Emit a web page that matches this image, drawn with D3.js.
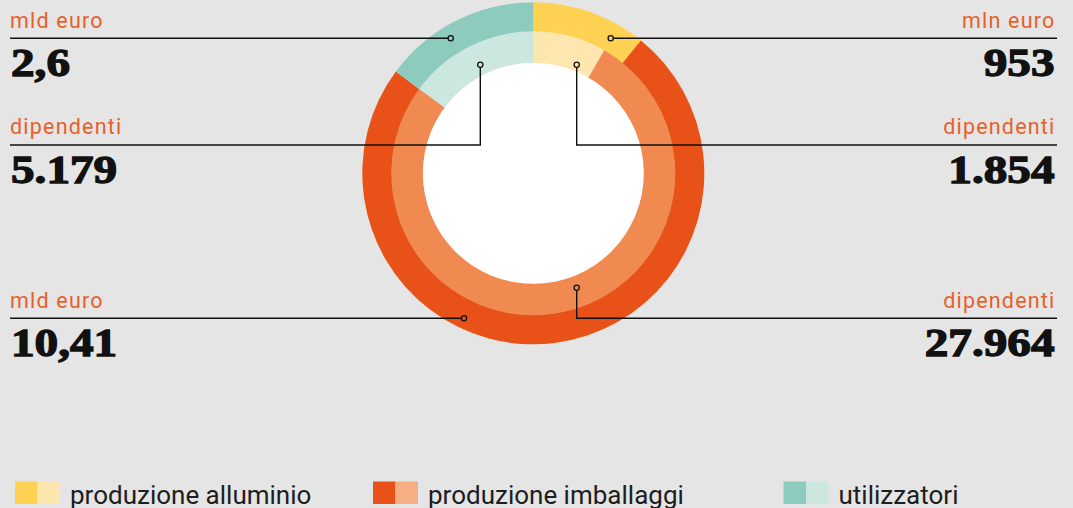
<!DOCTYPE html>
<html lang="it">
<head>
  <meta charset="utf-8">
  <title>Alluminio: fatturato e dipendenti</title>
  <script src="https://d3js.org/d3.v7.min.js"></script>
  <style>
    html, body { margin: 0; padding: 0; background: #e4e5e4; }
    svg { display: block; }
    .unit { font-family: Roboto, "Open Sans", sans-serif; font-size: 21.5px; letter-spacing: 1.2px; fill: #e8602a; }
    .value { font-family: "Liberation Serif", "DejaVu Serif", serif; font-weight: bold; font-size: 40px; fill: #111; stroke: #111; stroke-width: 1.3px; }
    .legend text { font-family: Roboto, "Open Sans", sans-serif; font-size: 26px; fill: #1e1e1e; }
  </style>
</head>
<body>
  <svg width="1073" height="508"></svg>

  <script>
    // categories, in clockwise order from 12 o'clock
    var categories = ["produzione alluminio", "produzione imballaggi", "utilizzatori"];

    // printed figures
    var revenue = ["953", "10,41", "2,6"];
    var revenueUnit = ["mln euro", "mld euro", "mld euro"];
    var employees = ["1.854", "27.964", "5.179"];

    // sweep of each slice in degrees, as drawn in the picture
    var outerShares = [39, 267.5, 53.5];   // fatturato
    var innerShares = [30, 276.5, 53.5];   // dipendenti

    var darkColors = ["#ffd254", "#e85117", "#8ecbbf"];
    var lightColors = ["#fee6af", "#f08a51", "#cce6e0"];
    var legendLight = ["#fee6af", "#f6ae84", "#cce6e0"];

    var svg = d3.select("svg"),
      width = +svg.attr("width"),
      height = +svg.attr("height"),
      cx = 533.3,
      cy = 173.3;

    svg.append("rect").attr("width", width).attr("height", height).attr("fill", "#e4e5e4");

    var pie = d3.pie().sort(null).value(d => d);
    var outerArc = d3.arc().innerRadius(141.5).outerRadius(171);
    var innerArc = d3.arc().innerRadius(110).outerRadius(142);

    var g = svg.append("g").attr("transform", `translate(${cx},${cy})`);

    g.selectAll("path.outer")
      .data(pie(outerShares))
      .enter().append("path")
      .attr("class", "outer")
      .attr("d", outerArc)
      .attr("fill", (d, i) => darkColors[i]);

    g.selectAll("path.inner")
      .data(pie(innerShares))
      .enter().append("path")
      .attr("class", "inner")
      .attr("d", innerArc)
      .attr("fill", (d, i) => lightColors[i]);

    g.append("circle").attr("r", 110.5).attr("fill", "#fff");

    // callouts: ring, category, side, y of the rule, dot offset from centre
    var callouts = [
      { ring: "outer", cat: 2, side: "left", y: 38.3, dot: [-82.6, -135] },
      { ring: "inner", cat: 2, side: "left", y: 145, dot: [-53, -108.6] },
      { ring: "outer", cat: 1, side: "left", y: 318.3, dot: [-69.3, 145] },
      { ring: "outer", cat: 0, side: "right", y: 38.3, dot: [77.4, -135] },
      { ring: "inner", cat: 0, side: "right", y: 145, dot: [43.4, -108.6] },
      { ring: "inner", cat: 1, side: "right", y: 318.3, dot: [43.4, 114.4] }
    ];

    var leftX = 10, rightX = 1057;

    callouts.forEach(c => {
      var dx = cx + c.dot[0], dy = cy + c.dot[1];
      var edge = c.side == "left" ? leftX : rightX;
      var anchor = c.side == "left" ? "start" : "end";
      var tx = c.side == "left" ? leftX : rightX - 1.5;

      var pts = [[edge, c.y], [dx, c.y], [dx, dy]];
      svg.append("path")
        .attr("d", d3.line()(pts))
        .attr("fill", "none")
        .attr("stroke", "#111")
        .attr("stroke-width", 1.4);

      svg.append("circle")
        .attr("cx", dx).attr("cy", dy).attr("r", 2.6)
        .attr("fill", c.ring == "outer" ? darkColors[c.cat] : lightColors[c.cat])
        .attr("stroke", "#111")
        .attr("stroke-width", 1.3);

      svg.append("text")
        .attr("class", "unit")
        .attr("x", tx).attr("y", c.y - 10.6)
        .attr("text-anchor", anchor)
        .text(c.ring == "outer" ? revenueUnit[c.cat] : "dipendenti");

      // poster-style figures: widen the serif a bit
      var vx = c.side == "left" ? leftX + 1 : rightX - 2.5;
      svg.append("text")
        .attr("class", "value")
        .attr("transform", `translate(${vx},${c.y + 37.5}) scale(1.18,1)`)
        .attr("text-anchor", anchor)
        .text(c.ring == "outer" ? revenue[c.cat] : employees[c.cat]);
    });

    // legend
    var legendX = [15, 373, 783.5];
    var legend = svg.append("g").attr("class", "legend");
    categories.forEach((name, i) => {
      var lg = legend.append("g").attr("transform", `translate(${legendX[i]},481.5)`);
      lg.append("rect").attr("width", 22.5).attr("height", 22.5).attr("fill", darkColors[i]);
      lg.append("rect").attr("x", 22.5).attr("width", 22.5).attr("height", 22.5).attr("fill", legendLight[i]);
      lg.append("text").attr("x", 55).attr("y", 22).text(name);
    });
  </script>
</body>
</html>
